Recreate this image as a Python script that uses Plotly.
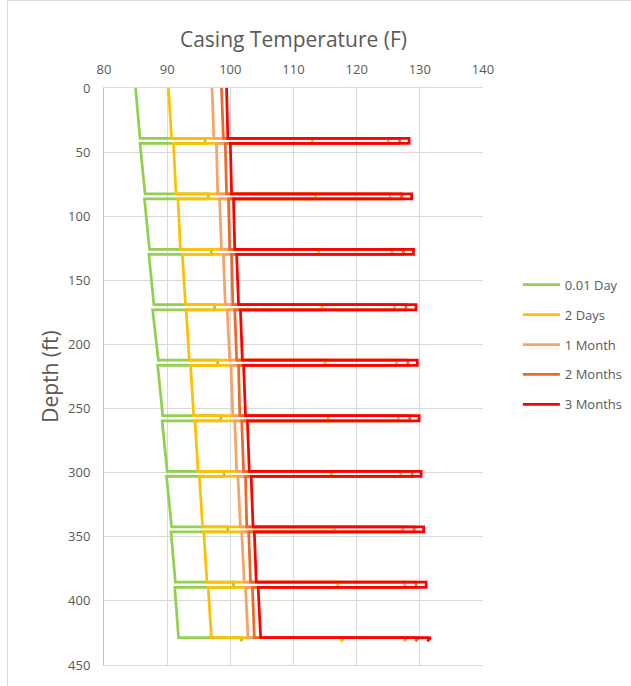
import plotly.graph_objects as go

# Depths (ft) where each casing section ends and the temperature spike sits
spike_depth = [39.2, 82.5, 125.8, 169.0, 212.3, 255.6, 298.9, 342.2, 385.4, 428.7]
spike_width = 4.0  # ft between outgoing and returning leg of a spike

series_names = ["0.01 Day", "2 Days", "1 Month", "2 Months", "3 Months"]
series_colors = ["#92D050", "#FFC000", "#F4A468", "#E96A2C", "#FF0000"]

# Temperature (F) at the top and bottom of each section, and at each spike peak
top_temp = {
    "0.01 Day": [85.0, 85.7, 86.4, 87.1, 87.7, 88.5, 89.2, 89.9, 90.6, 91.2],
    "2 Days":   [90.2, 91.0, 91.7, 92.4, 93.0, 93.7, 94.4, 95.1, 95.8, 96.5],
    "1 Month":  [97.1, 97.8, 98.3, 98.9, 99.5, 100.1, 100.7, 101.2, 101.8, 102.4],
    "2 Months": [98.6, 99.2, 99.7, 100.2, 100.7, 101.3, 101.8, 102.4, 102.9, 103.5],
    "3 Months": [99.4, 100.0, 100.5, 101.0, 101.6, 102.1, 102.7, 103.3, 103.8, 104.4],
}
bottom_temp = {
    "0.01 Day": [85.7, 86.5, 87.2, 87.9, 88.6, 89.3, 90.0, 90.7, 91.3, 91.8],
    "2 Days":   [90.7, 91.4, 92.1, 92.9, 93.5, 94.2, 94.9, 95.6, 96.3, 97.0],
    "1 Month":  [97.4, 98.0, 98.6, 99.2, 99.9, 100.4, 101.0, 101.6, 102.2, 102.8],
    "2 Months": [98.9, 99.4, 99.9, 100.4, 101.0, 101.5, 102.1, 102.6, 103.2, 103.8],
    "3 Months": [99.6, 100.2, 100.7, 101.3, 101.9, 102.4, 103.0, 103.6, 104.1, 104.8],
}
peak_temp = {
    "0.01 Day": [96.0, 96.5, 97.0, 97.5, 98.0, 98.5, 99.0, 99.6, 100.5, 102.0],
    "2 Days":   [113.0, 113.5, 114.0, 114.5, 115.0, 115.5, 116.0, 116.5, 117.0, 118.0],
    "1 Month":  [125.0, 125.3, 125.6, 126.0, 126.3, 126.6, 127.0, 127.3, 127.6, 128.0],
    "2 Months": [126.8, 127.1, 127.4, 127.8, 128.1, 128.4, 128.8, 129.1, 129.4, 129.8],
    "3 Months": [128.3, 128.7, 129.0, 129.4, 129.6, 129.9, 130.2, 130.6, 131.0, 131.7],
}
# Last recorded point of each run, just past the final spike
end_temp = {"0.01 Day": 101.6, "2 Days": 117.5, "1 Month": 127.5, "2 Months": 129.3, "3 Months": 131.2}
end_depth = {"0.01 Day": 431.5, "2 Days": 431.5, "1 Month": 431.5, "2 Months": 431.5, "3 Months": 431.5}

x_ticks = [80, 90, 100, 110, 120, 130, 140]
y_ticks = [0, 50, 100, 150, 200, 250, 300, 350, 400, 450]

FONT = "Open Sans"
TXT = "#595959"
GRID = "#d9d9d9"


def profile(name):
    xs, ys = [], []
    start = 0.0
    n = len(spike_depth)
    for k in range(n):
        d = spike_depth[k]
        xs += [top_temp[name][k], bottom_temp[name][k], peak_temp[name][k]]
        ys += [start, d, d]
        if k < n - 1:
            start = d + spike_width
            xs.append(peak_temp[name][k])
            ys.append(start)
    xs.append(end_temp[name])
    ys.append(end_depth[name])
    return xs, ys


fig = go.Figure()
for name, color in zip(series_names, series_colors):
    xs, ys = profile(name)
    fig.add_trace(go.Scatter(
        x=xs, y=ys, mode="lines", name=name, legendgroup=name,
        line=dict(color=color, width=2.75),
    ))

fig.update_layout(
    width=631, height=686,
    margin=dict(l=104, r=148, t=88, b=21, autoexpand=False),
    paper_bgcolor="white", plot_bgcolor="white",
    font=dict(family=FONT, color=TXT, size=13),
    showlegend=True,
    legend=dict(
        x=1.092, y=0.685, xanchor="left", yanchor="top",
        font=dict(family=FONT, size=13, color=TXT),
        tracegroupgap=10, itemwidth=37, bgcolor="rgba(0,0,0,0)",
    ),
    xaxis=dict(
        side="top", range=[80, 140], tickvals=x_ticks,
        showgrid=True, gridcolor=GRID, gridwidth=1,
        showline=True, linecolor=GRID, mirror=True, zeroline=False,
        ticks="", ticklabelstandoff=8,
        tickfont=dict(family=FONT, size=13, color=TXT),
        title=dict(text="Casing Temperature (F)", standoff=6,
                   font=dict(family=FONT, size=21, color=TXT)),
    ),
    yaxis=dict(
        range=[450, 0], tickvals=y_ticks,
        showgrid=True, gridcolor=GRID, gridwidth=1,
        showline=True, linecolor="#bfbfbf", mirror=False, zeroline=False,
        ticks="", ticklabelstandoff=10,
        tickfont=dict(family=FONT, size=13, color=TXT),
        title=dict(text="Depth (ft)", standoff=3,
                   font=dict(family=FONT, size=21, color=TXT)),
    ),
)

# Outer chart frame
px_w, px_h = 379.0, 577.0
fig.add_shape(
    type="rect", xref="paper", yref="paper",
    x0=(7.5 - 104) / px_w, x1=(660 - 104) / px_w,
    y0=1 - (720 - 88) / px_h, y1=1 + (88 - 0.5) / px_h,
    line=dict(color="#d9d9d9", width=1), fillcolor="rgba(0,0,0,0)", layer="below",
)

fig.write_html("out.html")
